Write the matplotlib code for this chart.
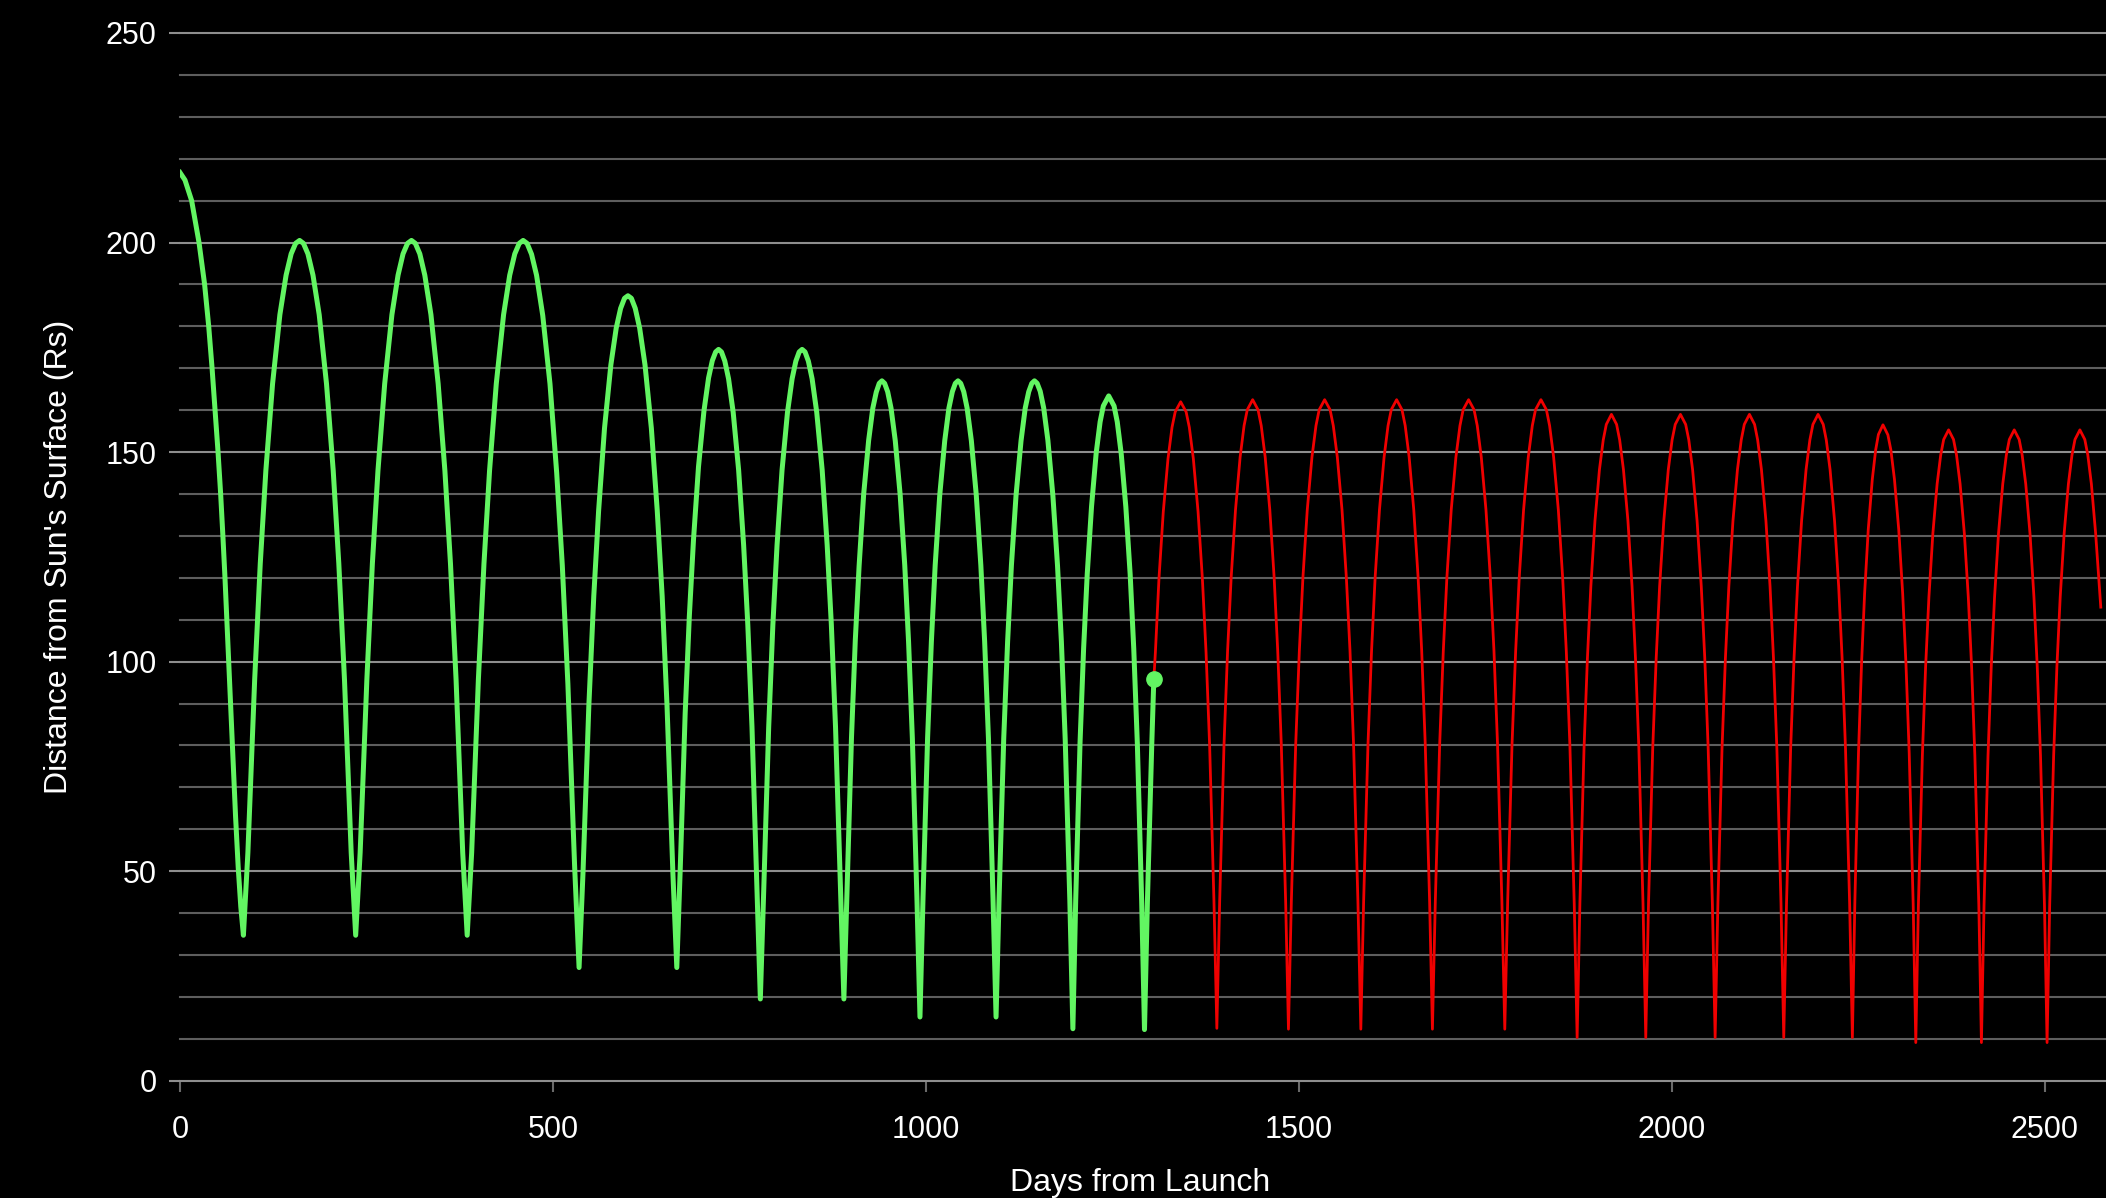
import matplotlib.pyplot as plt

plt.rcParams['font.family'] = ['Liberation Sans', 'DejaVu Sans']

# flown part of the trajectory (days since launch, distance from the solar surface in Rs)
green_days = [
    0, 6.7, 15.6, 25.5, 33, 38.5, 43, 47, 51, 54.5, 57.5, 60.3, 62.8, 65.3, 70.3, 74.5, 78, 81.5, 85,
    91.0, 100.1, 107.6, 115.1, 124.1, 133.9, 142.2, 149.0, 155.0, 160.3,
    165.5, 171.5, 178.3, 186.6, 196.4, 205.4, 212.9, 220.5, 229.5, 235.5,
    241.5, 250.5, 257.9, 265.4, 274.4, 284.1, 292.3, 299.0, 305.0, 310.3,
    315.5, 321.5, 328.2, 336.4, 346.1, 355.1, 362.6, 370.1, 379.0, 385.0,
    391.0, 400.0, 407.5, 415.0, 424.0, 433.8, 442.0, 448.8, 454.8, 460.0,
    465.3, 471.3, 478.0, 486.3, 496.0, 505.0, 512.5, 520.0, 529.0, 535.0,
    540.2, 548.1, 554.7, 561.2, 569.1, 577.6, 584.8, 590.7, 595.9, 600.5,
    605.1, 610.3, 616.2, 623.4, 631.9, 639.8, 646.4, 652.9, 660.8, 666.0,
    670.5, 677.2, 682.8, 688.4, 695.1, 702.4, 708.6, 713.6, 718.1, 722.0,
    725.9, 730.4, 735.4, 741.6, 748.9, 755.6, 761.2, 766.8, 773.5, 778.0,
    782.5, 789.2, 794.8, 800.4, 807.1, 814.4, 820.6, 825.6, 830.1, 834.0,
    837.9, 842.4, 847.4, 853.6, 860.9, 867.6, 873.2, 878.8, 885.5, 890.0,
    894.1, 900.2, 905.3, 910.4, 916.5, 923.2, 928.8, 933.4, 937.4, 941.0,
    944.6, 948.7, 953.2, 958.9, 965.5, 971.6, 976.7, 981.8, 987.9, 992.0,
    996.1, 1002.2, 1007.3, 1012.4, 1018.5, 1025.2, 1030.8, 1035.4, 1039.4, 1043.0,
    1046.6, 1050.7, 1055.2, 1060.9, 1067.5, 1073.6, 1078.7, 1083.8, 1089.9, 1094.0,
    1098.1, 1104.3, 1109.5, 1114.6, 1120.8, 1127.5, 1133.1, 1137.8, 1141.9, 1145.5,
    1149.1, 1153.2, 1157.9, 1163.5, 1170.2, 1176.4, 1181.6, 1186.7, 1192.9, 1197.0,
    1200.8, 1206.6, 1211.4, 1216.2, 1222.0, 1228.2, 1233.5, 1237.8, 1245.0,
    1252.2, 1256.5, 1261.8, 1268.0, 1273.8, 1278.6, 1283.4, 1289.2, 1293.0,
    1296.9, 1302.7, 1305.5,
]
green_dist = [
    216.7, 214.9, 210.0, 200.0, 190.0, 180.0, 170.0, 160.0, 150.0, 140.0, 130.0, 120.0, 110.0, 100.0,
    80.0, 63.0, 51.0, 41.5, 34.7,
    54.4, 95.7, 123.4, 145.6, 166.3, 182.8, 192.2, 197.3, 199.8, 200.5,
    199.8, 197.3, 192.2, 182.8, 166.3, 145.6, 123.4, 95.7, 54.4, 34.7,
    54.4, 95.7, 123.4, 145.6, 166.3, 182.8, 192.2, 197.3, 199.8, 200.5,
    199.8, 197.3, 192.2, 182.8, 166.3, 145.6, 123.4, 95.7, 54.4, 34.7,
    54.4, 95.7, 123.4, 145.6, 166.3, 182.8, 192.2, 197.3, 199.8, 200.5,
    199.8, 197.2, 192.2, 182.6, 166.3, 145.0, 123.0, 94.7, 51.3, 27.0,
    49.4, 89.5, 115.6, 136.0, 155.7, 170.8, 179.6, 184.3, 186.7, 187.3,
    186.7, 184.3, 179.6, 170.8, 155.7, 136.0, 115.6, 89.5, 49.4, 27.0,
    49.9, 87.5, 110.8, 129.1, 146.5, 159.8, 167.7, 171.8, 173.9, 174.5,
    173.9, 171.7, 167.5, 159.5, 145.7, 127.8, 108.8, 84.4, 45.2, 19.5,
    45.2, 84.4, 108.8, 127.8, 145.7, 159.5, 167.5, 171.7, 173.9, 174.5,
    173.9, 171.7, 167.5, 159.5, 145.7, 127.8, 108.8, 84.4, 45.2, 19.5,
    44.6, 81.9, 105.1, 122.8, 139.9, 152.8, 160.5, 164.3, 166.4, 167.0,
    166.4, 164.4, 160.5, 152.7, 139.7, 123.0, 104.8, 81.7, 43.7, 15.2,
    43.7, 81.7, 104.8, 123.0, 139.7, 152.7, 160.5, 164.4, 166.4, 167.0,
    166.4, 164.4, 160.5, 152.7, 139.7, 123.0, 104.8, 81.7, 43.7, 15.2,
    43.7, 81.7, 104.8, 123.0, 139.7, 152.7, 160.5, 164.4, 166.4, 167.0,
    166.4, 164.5, 160.5, 152.8, 139.6, 122.9, 104.7, 81.5, 43.0, 12.4,
    43.2, 80.7, 103.2, 120.8, 137.0, 149.7, 157.2, 161.0, 163.4,
    161.0, 157.2, 149.6, 136.9, 120.8, 103.1, 80.5, 43.0, 12.2,
    42.7, 79.9, 95.8,
]

# planned part of the trajectory
red_days = [
    1305.5, 1307.6, 1312.4, 1318.2, 1324.5, 1329.9, 1334.2, 1341.5,
    1348.8, 1353.1, 1358.5, 1364.8, 1370.6, 1375.5, 1380.3, 1386.1, 1390.0,
    1393.8, 1399.6, 1404.4, 1409.2, 1415.0, 1421.2, 1426.5, 1430.8, 1438.0,
    1445.2, 1449.5, 1454.8, 1461.0, 1466.8, 1471.6, 1476.4, 1482.2, 1486.0,
    1489.9, 1495.7, 1500.6, 1505.4, 1511.2, 1517.5, 1522.9, 1527.2, 1534.5,
    1541.8, 1546.1, 1551.5, 1557.8, 1563.6, 1568.5, 1573.3, 1579.1, 1583.0,
    1586.8, 1592.6, 1597.4, 1602.2, 1608.0, 1614.2, 1619.5, 1623.8, 1631.0,
    1638.2, 1642.5, 1647.8, 1654.0, 1659.8, 1664.6, 1669.4, 1675.2, 1679.0,
    1682.9, 1688.7, 1693.6, 1698.4, 1704.2, 1710.5, 1715.9, 1720.2, 1727.5,
    1734.8, 1739.1, 1744.5, 1750.8, 1756.6, 1761.5, 1766.3, 1772.1, 1776.0,
    1779.9, 1785.7, 1790.6, 1795.4, 1801.2, 1807.5, 1812.9, 1817.2, 1824.5,
    1831.8, 1836.1, 1841.5, 1847.8, 1853.6, 1858.5, 1863.3, 1869.1, 1873.0,
    1876.7, 1882.2, 1886.8, 1891.4, 1896.9, 1902.9, 1908.0, 1912.1, 1919.0,
    1925.9, 1930.0, 1935.1, 1941.1, 1946.6, 1951.2, 1955.8, 1961.3, 1965.0,
    1968.7, 1974.3, 1979.0, 1983.6, 1989.2, 1995.2, 2000.3, 2004.5, 2011.5,
    2018.5, 2022.7, 2027.8, 2033.8, 2039.4, 2044.1, 2048.7, 2054.3, 2058.0,
    2061.7, 2067.2, 2071.8, 2076.4, 2081.9, 2087.9, 2093.0, 2097.1, 2104.0,
    2110.9, 2115.0, 2120.1, 2126.1, 2131.6, 2136.2, 2140.8, 2146.3, 2150.0,
    2153.7, 2159.2, 2163.8, 2168.4, 2173.9, 2179.9, 2185.0, 2189.1, 2196.0,
    2202.9, 2207.0, 2212.1, 2218.1, 2223.6, 2228.2, 2232.8, 2238.3, 2242.0,
    2245.3, 2250.2, 2254.3, 2258.4, 2263.3, 2268.7, 2273.2, 2276.9, 2283.0,
    2289.6, 2293.6, 2298.4, 2304.1, 2309.4, 2313.8, 2318.2, 2323.5, 2327.0,
    2330.5, 2335.8, 2340.2, 2344.6, 2349.9, 2355.6, 2360.4, 2364.4, 2371.0,
    2377.6, 2381.6, 2386.4, 2392.1, 2397.4, 2401.8, 2406.2, 2411.5, 2415.0,
    2418.5, 2423.8, 2428.2, 2432.6, 2437.9, 2443.6, 2448.4, 2452.4, 2459.0,
    2465.6, 2469.6, 2474.4, 2480.1, 2485.4, 2489.8, 2494.2, 2499.5, 2503.0,
    2506.5, 2511.8, 2516.2, 2520.6, 2525.9, 2531.6, 2536.4, 2540.4, 2547.0,
    2553.6, 2557.6, 2562.4, 2568.1, 2575.0,
]
red_dist = [
    95.8, 102.2, 119.8, 135.8, 148.4, 155.9, 159.6, 162.0,
    159.6, 155.9, 148.4, 135.8, 119.8, 102.3, 80.1, 43.0, 12.5,
    42.9, 80.2, 102.6, 120.1, 136.2, 148.8, 156.3, 160.1, 162.5,
    160.1, 156.3, 148.8, 136.2, 120.1, 102.6, 80.2, 42.9, 12.3,
    42.9, 80.2, 102.6, 120.1, 136.2, 148.8, 156.3, 160.1, 162.5,
    160.1, 156.3, 148.8, 136.2, 120.1, 102.6, 80.2, 42.9, 12.3,
    42.9, 80.2, 102.6, 120.1, 136.2, 148.8, 156.3, 160.1, 162.5,
    160.1, 156.3, 148.8, 136.2, 120.1, 102.6, 80.2, 42.9, 12.3,
    42.9, 80.2, 102.6, 120.1, 136.2, 148.8, 156.3, 160.1, 162.5,
    160.1, 156.3, 148.8, 136.2, 120.1, 102.6, 80.2, 42.9, 12.3,
    42.9, 80.2, 102.6, 120.1, 136.2, 148.8, 156.3, 160.1, 162.5,
    160.1, 156.3, 148.8, 136.2, 120.0, 102.4, 80.0, 42.3, 10.3,
    42.3, 79.1, 100.9, 118.0, 133.6, 145.8, 152.9, 156.6, 159.0,
    156.6, 152.9, 145.8, 133.6, 118.0, 100.9, 79.1, 42.3, 10.3,
    42.3, 79.1, 100.9, 118.0, 133.6, 145.8, 152.9, 156.6, 159.0,
    156.6, 152.9, 145.8, 133.6, 118.0, 100.9, 79.1, 42.3, 10.3,
    42.3, 79.1, 100.9, 118.0, 133.6, 145.8, 152.9, 156.6, 159.0,
    156.6, 152.9, 145.8, 133.6, 118.0, 100.9, 79.1, 42.3, 10.3,
    42.3, 79.1, 100.9, 118.0, 133.6, 145.8, 152.9, 156.6, 159.0,
    156.6, 152.9, 145.8, 133.6, 118.0, 100.9, 79.1, 42.3, 10.3,
    42.5, 78.3, 99.6, 116.3, 131.6, 143.5, 150.5, 154.2, 156.5,
    154.1, 150.5, 143.5, 131.6, 116.3, 99.6, 78.1, 42.1, 9.1,
    41.9, 77.5, 98.9, 115.4, 130.6, 142.4, 149.3, 153.0, 155.3,
    153.0, 149.3, 142.4, 130.6, 115.4, 98.9, 77.5, 41.9, 9.1,
    41.9, 77.5, 98.9, 115.4, 130.6, 142.4, 149.3, 153.0, 155.3,
    153.0, 149.3, 142.4, 130.6, 115.4, 98.9, 77.5, 41.9, 9.1,
    41.9, 77.5, 98.9, 115.4, 130.6, 142.4, 149.3, 153.0, 155.3,
    153.0, 149.3, 142.4, 130.6, 113.0,
]

x_ticks = [0, 500, 1000, 1500, 2000, 2500]
y_ticks = [0, 50, 100, 150, 200, 250]
y_minor = list(range(0, 251, 10))

W, H = 2106, 1198
fig = plt.figure(figsize=(W / 100, H / 100), dpi=100, facecolor='black')
ax = fig.add_axes([180 / W, (H - 1080.7) / H, (W - 180) / W, (1080.7 - 33) / H])
ax.set_facecolor('black')

green = '#62f562'
ax.plot(green_days, green_dist, color=green, lw=3.6, zorder=3)
ax.plot(red_days, red_dist, color='#f00000', lw=2.0, zorder=2)
# current position of the probe
ax.plot(green_days[-1], green_dist[-1], 'o', color=green, ms=11, zorder=4)

ax.set_xlim(0, 2582)
ax.set_ylim(0, 250)
ax.set_xticks(x_ticks)
ax.set_yticks(y_ticks)
ax.set_yticks(y_minor, minor=True)

ax.grid(axis='y', which='major', color='#8e8e8e', lw=1.5)
ax.grid(axis='y', which='minor', color='#5e5e5e', lw=1.5)
ax.set_axisbelow(True)
for t in ax.yaxis.get_major_ticks() + ax.yaxis.get_minor_ticks():
    t.gridline.set_clip_on(False)
for s in ax.spines.values():
    s.set_visible(False)

ax.tick_params(axis='y', which='major', length=8, width=1.5, color='#8e8e8e',
               pad=9, labelsize=22, labelcolor='white')
ax.tick_params(axis='y', which='minor', length=0)
ax.tick_params(axis='x', length=8, width=1.5, color='#6a6a6a',
               pad=17, labelsize=22, labelcolor='white')

fig.text(59 / W, 1 - 556.5 / H, "Distance from Sun's Surface (Rs)", rotation=90,
         ha='center', va='center', color='white', fontsize=23)
fig.text(1140 / W, 7 / H, 'Days from Launch', ha='center', va='baseline',
         color='white', fontsize=23)

fig.savefig('out.png', dpi=100, facecolor='black')
